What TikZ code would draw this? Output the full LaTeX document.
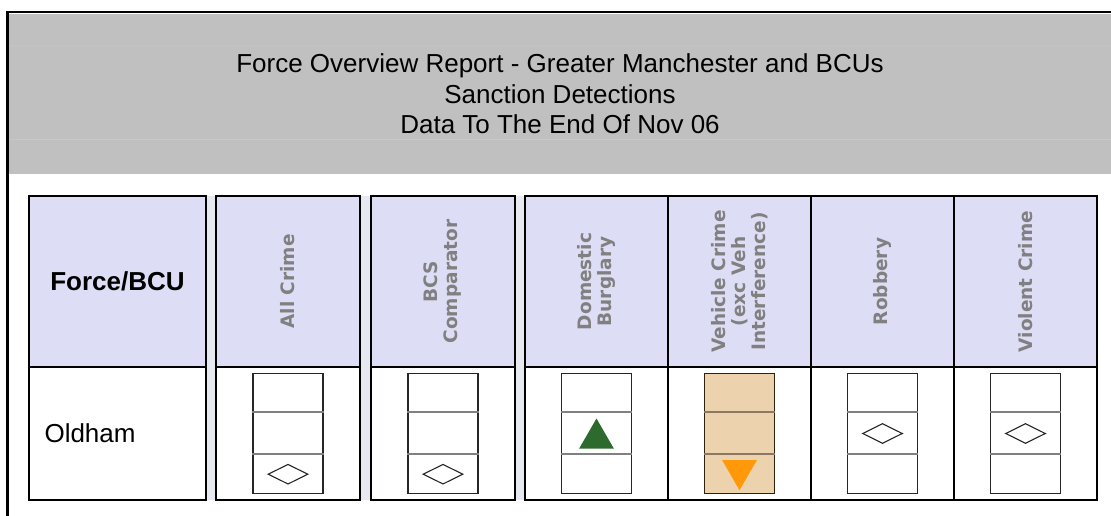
\documentclass[tikz,border=0pt]{standalone}
\usepackage{fontspec}
\setmainfont{Liberation Sans}
\newfontfamily\hdrfont{DejaVu Sans}
\usetikzlibrary{positioning,shapes.geometric,backgrounds}

\definecolor{bannergray}{RGB}{192,192,192}
\definecolor{hdrblue}{RGB}{221,221,245}
\definecolor{gapblue}{RGB}{230,234,240}
\definecolor{hdrtext}{RGB}{128,128,128}
\definecolor{vehtan}{RGB}{236,211,173}
\definecolor{tanline}{RGB}{138,120,100}
\definecolor{upgreen}{RGB}{45,106,45}
\definecolor{downorange}{RGB}{255,153,10}

\tikzset{
  banner/.style={fill=bannergray, minimum width=1102pt, minimum height=160pt,
    align=center, inner sep=0, font=\fontsize{26}{30.5}\selectfont},
  hdrcell/.style={draw=black, line width=2pt, fill=hdrblue, outer sep=0,
    minimum width=143pt, minimum height=171pt, inner sep=0},
  datacell/.style={draw=black, line width=2pt, fill=white, outer sep=0,
    minimum width=143pt, minimum height=133pt, inner sep=0},
  hdrlabel/.style={rotate=90, align=center, text=hdrtext, inner sep=0,
    font=\hdrfont\bfseries\fontsize{18.5}{20}\selectfont},
  indbox/.style={draw=black!85, line width=1.4pt, fill=white,
    minimum width=70pt, minimum height=120pt, inner sep=0},
  indline/.style={draw=black!50, line width=2pt},
  steadymark/.style={diamond, aspect=2, draw=black!85, line width=1.1pt,
    minimum width=40pt, minimum height=20pt, inner sep=0},
  upmark/.style={regular polygon, regular polygon sides=3, fill=upgreen,
    minimum size=40pt, inner sep=0},
  downmark/.style={upmark, fill=downorange, shape border rotate=180}
}

\begin{document}
\begin{tikzpicture}[x=1pt, y=-1pt]
\useasboundingbox (0,0) rectangle (1111,516);

% report title
\node (banner) [banner] at (560,94)
  {Force Overview Report - Greater Manchester and BCUs\\Sanction Detections\\Data To The End Of Nov 06};
\draw [bannergray!96!white, line width=1pt] ([yshift=-32pt]banner.north west) -- ([yshift=-32pt]banner.north east);
\draw [bannergray!88!white, line width=1pt] ([yshift=-126pt]banner.north west) -- ([yshift=-126pt]banner.north east);
\draw [line width=2.4pt] (7.3,516) -- (7.3,12.2) -- (1111,12.2);

% header row
\node (hForce) [hdrcell, minimum width=177pt] at (117.5,281.5)
  {\bfseries\fontsize{26}{30}\selectfont Force/BCU};
\node (hAll) [hdrcell, minimum width=144pt] at (288,281.5) {};
\node (hBCS) [hdrcell, minimum width=144pt] at (443,281.5) {};
\node (hBurglary) [hdrcell] at (596.5,281.5) {};
\node (hVehicle) [hdrcell, right=0pt of hBurglary] {};
\node (hRobbery) [hdrcell, right=0pt of hVehicle] {};
\node (hViolent) [hdrcell, right=0pt of hRobbery] {};

\node (lAll) [hdrlabel] at (hAll) {All Crime};
\node (lBCS) [hdrlabel] at (hBCS) {BCS\\Comparator};
\node (lBurglary) [hdrlabel] at (hBurglary) {Domestic\\Burglary};
\node (lVehicle) [hdrlabel] at (hVehicle) {Vehicle Crime\\(exc Veh\\Interference)};
\node (lRobbery) [hdrlabel] at (hRobbery) {Robbery};
\node (lViolent) [hdrlabel] at (hViolent) {Violent Crime};

% data row
\node (dForce) [datacell, minimum width=177pt, below=0pt of hForce] {};
\node (dAll) [datacell, minimum width=144pt, below=0pt of hAll] {};
\node (dBCS) [datacell, minimum width=144pt, below=0pt of hBCS] {};
\node (dBurglary) [datacell, below=0pt of hBurglary] {};
\node (dVehicle) [datacell, below=0pt of hVehicle] {};
\node (dRobbery) [datacell, below=0pt of hRobbery] {};
\node (dViolent) [datacell, below=0pt of hViolent] {};

\node (oldham) [anchor=west, font=\fontsize{26}{30}\selectfont] at ([xshift=12pt]dForce.west) {Oldham};

% strips between the separate columns
\begin{scope}[on background layer]
  \fill [gapblue] (hForce.north east) rectangle (dAll.south west);
  \fill [gapblue] (hAll.north east) rectangle (dBCS.south west);
  \fill [gapblue] (hBCS.north east) rectangle (dBurglary.south west);
\end{scope}

% indicator boxes
\foreach \c in {All,BCS,Burglary,Robbery,Violent} {
  \node (i\c) [indbox] at (d\c) {};
  \draw [indline] ([yshift=-39pt]i\c.north west) -- ([yshift=-39pt]i\c.north east);
  \draw [indline] ([yshift=-81pt]i\c.north west) -- ([yshift=-81pt]i\c.north east);
}
\node (iVehicle) [indbox, fill=vehtan, draw=black!75!brown] at (dVehicle) {};
\draw [indline, draw=tanline] ([yshift=-39pt]iVehicle.north west) -- ([yshift=-39pt]iVehicle.north east);
\draw [indline, draw=tanline] ([yshift=-81pt]iVehicle.north west) -- ([yshift=-81pt]iVehicle.north east);

\node (mAll) [steadymark] at ([yshift=20pt]iAll.south) {};
\node (mBCS) [steadymark] at ([yshift=20pt]iBCS.south) {};
\node (mBurglary) [upmark] at ([yshift=-5pt]iBurglary.center) {};
\node (mVehicle) [downmark] at ([yshift=24pt]iVehicle.south) {};
\node (mRobbery) [steadymark] at (iRobbery) {};
\node (mViolent) [steadymark] at (iViolent) {};
\end{tikzpicture}
\end{document}
